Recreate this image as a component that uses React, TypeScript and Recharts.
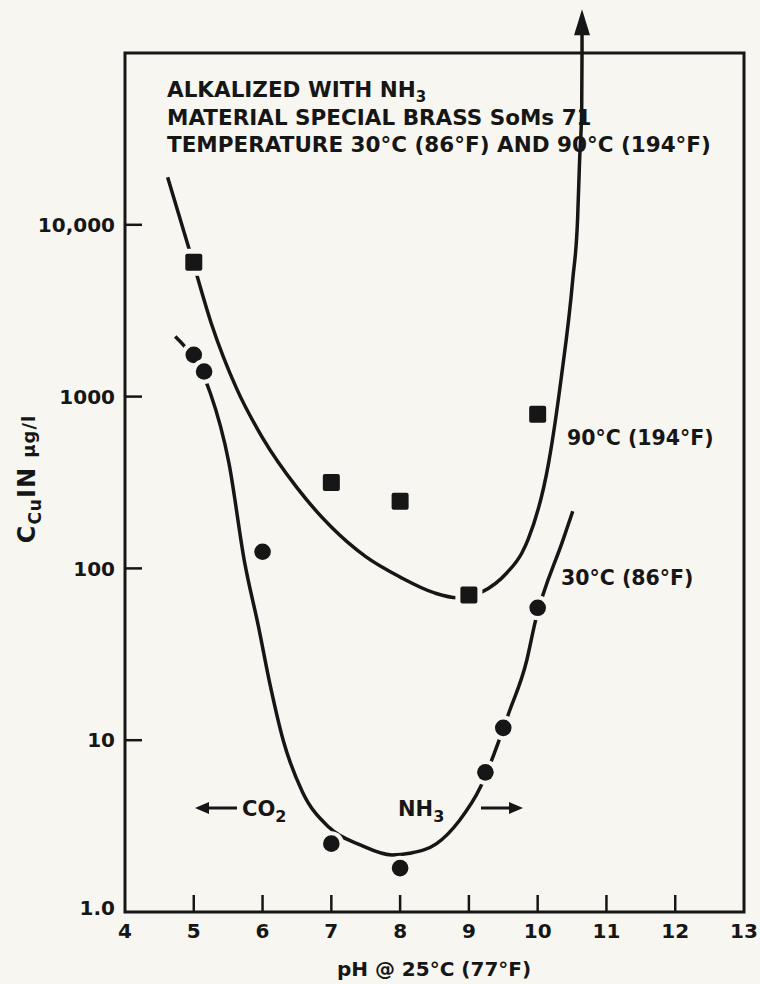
import {
  ComposedChart,
  Line,
  ReferenceArea,
  ReferenceLine,
  XAxis,
  YAxis,
} from "recharts";

const INK = "#161616";
const PAPER = "#f8f6f1";
const FONT = "'DejaVu Sans', 'Liberation Sans', sans-serif";

const xTicks = [4, 5, 6, 7, 8, 9, 10, 11, 12, 13];
const yTicks = [1, 10, 100, 1000, 10000];
const yTickLabels: Record<number, string> = {
  1: "1.0",
  10: "10",
  100: "100",
  1000: "1000",
  10000: "10,000",
};
const yMax = 100000;
const arrowTop = 180000;

// 90°C (194°F) measured points (squares)
const hotPh = [5, 7, 8, 9, 10];
const hotCu = [6050, 316, 246, 70, 790];

// 30°C (86°F) measured points (circles)
const coldPh = [5.0, 5.15, 6, 7, 8, 9.24, 9.5, 10];
const coldCu = [1750, 1400, 125, 2.5, 1.8, 6.5, 11.8, 59];

// hand drawn trend curves
const hotCurvePh = [
  4.62, 4.99, 5.26, 5.62, 6.0, 6.5, 7.0, 7.5, 8.0, 8.5, 8.83, 9.19, 9.55, 9.77,
  9.86, 10.16, 10.34, 10.51, 10.58, 10.61, 10.64, 10.645,
];
const hotCurveCu = [
  18900, 6050, 2630, 1120, 575, 295, 174, 117, 89, 72, 67.5, 73, 94, 123, 147,
  413, 1260, 4800, 10700, 24000, 46500, 100000,
];

const coldCurvePh = [
  4.73, 4.97, 5.12, 5.24, 5.51, 5.74, 5.94, 6.11, 6.3, 6.58, 6.97, 7.42, 7.88,
  8.14, 8.53, 8.86, 9.17, 9.37, 9.58, 9.84, 9.96, 10.37, 10.51,
];
const coldCurveCu = [
  2240, 1740, 1380, 1050, 413, 108, 46, 21, 10, 5.0, 3.1, 2.46, 2.15, 2.2, 2.5,
  3.4, 5.35, 8.4, 14.4, 29, 48, 147, 215,
];

const zip = (xs: number[], ys: number[]) =>
  xs.map((x, i) => ({ x, y: ys[i] }));

const hotPoints = zip(hotPh, hotCu);
const coldPoints = zip(coldPh, coldCu);
const hotCurve = zip(hotCurvePh, hotCurveCu);
const coldCurve = zip(coldCurvePh, coldCurveCu);

function SquareMark(props: any) {
  const { cx, cy, index } = props;
  return (
    <g key={`sq-${index}`}>
      <rect x={cx - 13.5} y={cy - 13.5} width={27} height={27} fill={PAPER} />
      <rect
        x={cx - 8.5}
        y={cy - 8.5}
        width={17}
        height={17}
        rx={2}
        fill={INK}
      />
    </g>
  );
}

function CircleMark(props: any) {
  const { cx, cy, index } = props;
  return (
    <g key={`ci-${index}`}>
      <circle cx={cx} cy={cy} r={12.5} fill={PAPER} />
      <circle cx={cx} cy={cy} r={8.3} fill={INK} />
    </g>
  );
}

function XTick(props: any) {
  const { x, y, payload } = props;
  const v = payload.value;
  return (
    <g>
      {v > 4 && v < 13 && (
        <line x1={x} x2={x} y1={y} y2={y - 17} stroke={INK} strokeWidth={2.5} />
      )}
      <text
        x={x}
        y={y + 26}
        textAnchor="middle"
        fontFamily={FONT}
        fontWeight="bold"
        fontSize={20}
        fill={INK}
      >
        {v}
      </text>
    </g>
  );
}

function YTick(props: any) {
  const { x, y, payload } = props;
  const v = payload.value;
  return (
    <g>
      {v > 1 && (
        <line x1={x} x2={x + 17} y1={y} y2={y} stroke={INK} strokeWidth={2.5} />
      )}
      <text
        x={x - 10}
        y={v === 1 ? y - 4 : y}
        dy="0.36em"
        textAnchor="end"
        fontFamily={FONT}
        fontWeight="bold"
        fontSize={20}
        fill={INK}
      >
        {yTickLabels[v]}
      </text>
    </g>
  );
}

function ArrowUp(props: any) {
  const { x1, y1, x2, y2 } = props;
  return (
    <g>
      <line x1={x1} y1={y1} x2={x2} y2={y2 + 22} stroke={INK} strokeWidth={3.5} />
      <polygon
        points={`${x2},${y2} ${x2 - 8},${y2 + 26} ${x2 + 8},${y2 + 26}`}
        fill={INK}
      />
    </g>
  );
}

function Annotations() {
  const t = {
    fontFamily: FONT,
    fontWeight: "bold" as const,
    fill: INK,
  };
  return (
    <svg
      width={760}
      height={984}
      style={{ position: "absolute", left: 0, top: 0, pointerEvents: "none" }}
    >
      <text x={167} y={97} fontSize={21.5} {...t}>
        ALKALIZED WITH NH
        <tspan fontSize={15} dy={5}>
          3
        </tspan>
      </text>
      <text x={167} y={125} fontSize={21.5} {...t}>
        MATERIAL SPECIAL BRASS SoMs 71
      </text>
      <text x={167} y={152} fontSize={21.5} {...t}>
        TEMPERATURE 30°C (86°F) AND 90°C (194°F)
      </text>

      <text x={567} y={445} fontSize={20.5} {...t}>
        90°C (194°F)
      </text>
      <text x={561} y={585} fontSize={20.5} {...t}>
        30°C (86°F)
      </text>

      <line x1={205} y1={808} x2={237} y2={808} stroke={INK} strokeWidth={3} />
      <polygon points="195,808 209,802 209,814" fill={INK} />
      <text x={242} y={816} fontSize={21} {...t}>
        CO
        <tspan fontSize={16} dy={6}>
          2
        </tspan>
      </text>
      <text x={398} y={816} fontSize={21} {...t}>
        NH
        <tspan fontSize={16} dy={6}>
          3
        </tspan>
      </text>
      <line x1={481} y1={808} x2={513} y2={808} stroke={INK} strokeWidth={3} />
      <polygon points="523,808 509,802 509,814" fill={INK} />

      <text
        transform="translate(35 479) rotate(-90)"
        textAnchor="middle"
        fontSize={24}
        letterSpacing={1}
        {...t}
      >
        C
        <tspan fontSize={17} dy={6}>
          Cu
        </tspan>
        <tspan dy={-6}>IN </tspan>
        <tspan fontSize={18}>μg/l</tspan>
      </text>

      <text x={434} y={976} textAnchor="middle" fontSize={20} {...t}>
        pH @ 25°C (77°F)
      </text>
    </svg>
  );
}

export default function App() {
  return (
    <div
      style={{
        position: "absolute",
        left: 0,
        top: 0,
        width: 760,
        height: 984,
        background: PAPER,
      }}
    >
      <ComposedChart
        width={760}
        height={984}
        margin={{ top: 53, right: 16, left: 0, bottom: 0 }}
      >
        <XAxis
          dataKey="x"
          type="number"
          domain={[4, 13]}
          ticks={xTicks}
          interval={0}
          height={72}
          tickSize={0}
          tickMargin={0}
          axisLine={false}
          tickLine={false}
          tick={<XTick />}
        />
        <YAxis
          type="number"
          scale="log"
          domain={[1, yMax]}
          allowDataOverflow
          ticks={yTicks}
          interval={0}
          width={125}
          tickSize={0}
          tickMargin={0}
          axisLine={false}
          tickLine={false}
          tick={<YTick />}
        />
        <ReferenceArea
          x1={4}
          x2={13}
          y1={1}
          y2={yMax}
          fill="none"
          stroke={INK}
          strokeWidth={3}
          ifOverflow="visible"
        />
        <Line
          data={hotCurve}
          dataKey="y"
          type="monotone"
          stroke={INK}
          strokeWidth={3.5}
          dot={false}
          activeDot={false}
          isAnimationActive={false}
        />
        <Line
          data={coldCurve}
          dataKey="y"
          type="monotone"
          stroke={INK}
          strokeWidth={3.5}
          dot={false}
          activeDot={false}
          isAnimationActive={false}
        />
        <ReferenceLine
          segment={[
            { x: 10.645, y: yMax },
            { x: 10.645, y: arrowTop },
          ]}
          ifOverflow="visible"
          shape={ArrowUp}
        />
        <Line
          data={hotPoints}
          dataKey="y"
          stroke="none"
          dot={SquareMark}
          activeDot={false}
          isAnimationActive={false}
        />
        <Line
          data={coldPoints}
          dataKey="y"
          stroke="none"
          dot={CircleMark}
          activeDot={false}
          isAnimationActive={false}
        />
      </ComposedChart>
      <Annotations />
    </div>
  );
}
